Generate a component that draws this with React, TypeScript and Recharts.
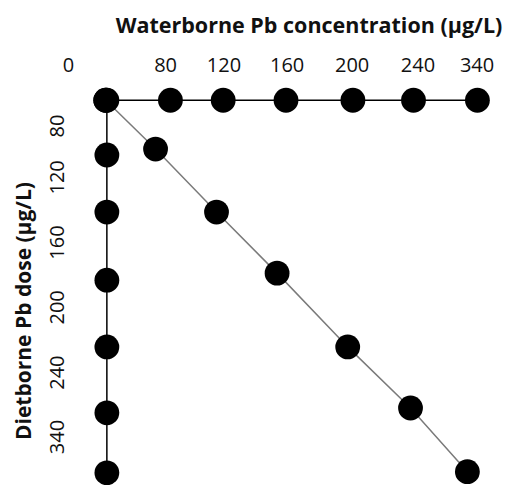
import React from 'react';
import { ScatterChart, Scatter, XAxis, YAxis } from 'recharts';

// Label text for each exposure level, and where it sits along the axis (0 = origin, 100 = last level)
const waterLabels = ['0', '80', '120', '160', '200', '240', '340'];
const waterLabelPos = [-10.0, 16.1, 31.8, 48.8, 66.3, 84.0, 99.9];
const dietLabels = ['80', '120', '160', '200', '240', '340'];
const dietLabelPos = [6.9, 20.7, 38.2, 55.6, 73.1, 90.4];

// Waterborne-only treatments (top row)
const waterRowX = [0, 17.4, 31.6, 48.5, 66.5, 82.8, 100];
// Dietborne-only treatments (left column)
const dietColY = [0, 14.7, 30.0, 48.3, 66.2, 83.9, 100];
// Combined treatments (diagonal)
const comboX = [0, 13.4, 29.8, 46.1, 65.1, 82.0, 97.3];
const comboY = [0, 13.1, 30.0, 46.4, 66.2, 82.6, 99.7];

const waterRow = waterRowX.map((x) => ({ x, y: 0 }));
const dietCol = dietColY.map((y) => ({ x: 0.3, y }));
const combo = comboX.map((x, i) => ({ x, y: comboY[i] }));

const FONT = '"Open Sans", sans-serif';

const dot = (p: any) => <circle cx={p.cx} cy={p.cy} r={12.4} fill="#000" />;

const WaterTick = ({ x, y, payload }: any) => {
  const i = waterLabelPos.indexOf(payload.value);
  return (
    <text x={x} y={y} dy={1} textAnchor="middle" dominantBaseline="central"
      fontSize={20} fontFamily={FONT} fill="#111">
      {waterLabels[i]}
    </text>
  );
};

const DietTick = ({ x, y, payload }: any) => {
  const i = dietLabelPos.indexOf(payload.value);
  return (
    <text transform={`translate(${x + 6},${y}) rotate(-90)`} textAnchor="middle"
      dominantBaseline="central" fontSize={20} fontFamily={FONT} fill="#111">
      {dietLabels[i]}
    </text>
  );
};

export default function App() {
  return (
    <div style={{ position: 'absolute', left: 0, top: 0, width: 505, height: 485, background: '#fff' }}>
      <ScatterChart width={505} height={485} margin={{ top: 33, right: 9, bottom: 1, left: 0 }}>
        <XAxis type="number" dataKey="x" orientation="top" domain={[-15, 105]} height={30}
          ticks={waterLabelPos} interval={0} axisLine={false} tickLine={false}
          tickSize={0} tickMargin={0} tick={<WaterTick />} />
        <YAxis type="number" dataKey="y" reversed domain={[-10, 103]} width={50}
          ticks={dietLabelPos} interval={0} axisLine={false} tickLine={false}
          tickSize={0} tickMargin={0} tick={<DietTick />} />
        <Scatter data={combo} line={{ stroke: '#7a7a7a', strokeWidth: 1.5 }} shape={dot} isAnimationActive={false} />
        <Scatter data={dietCol} line={{ stroke: '#000', strokeWidth: 1.5 }} shape={dot} isAnimationActive={false} />
        <Scatter data={waterRow} line={{ stroke: '#000', strokeWidth: 1.5 }} shape={dot} isAnimationActive={false} />
      </ScatterChart>
      <div style={{
        position: 'absolute', left: 309, top: 24, transform: 'translate(-50%, -50%)',
        fontFamily: FONT, fontWeight: 700, fontSize: 21.5, whiteSpace: 'nowrap', color: '#111',
      }}>
        Waterborne Pb concentration (µg/L)
      </div>
      <div style={{
        position: 'absolute', left: 23, top: 311, transform: 'translate(-50%, -50%) rotate(-90deg)',
        fontFamily: FONT, fontWeight: 700, fontSize: 21, whiteSpace: 'nowrap', color: '#111',
      }}>
        Dietborne Pb dose (µg/L)
      </div>
    </div>
  );
}
